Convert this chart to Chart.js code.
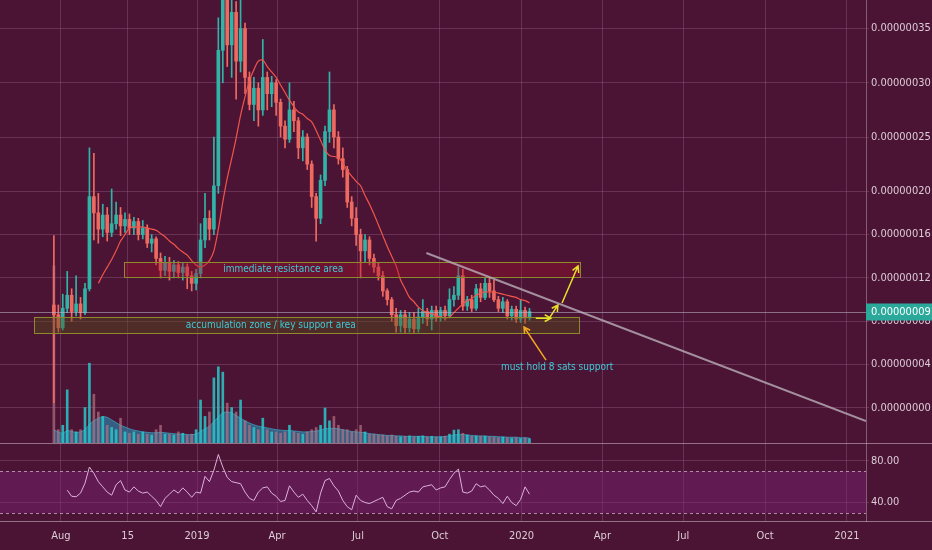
<!DOCTYPE html>
<html>
<head>
<meta charset="utf-8">
<title>Chart</title>
<script src="https://cdn.jsdelivr.net/npm/chart.js@4.4.1/dist/chart.umd.min.js"></script>
<style>
  html, body { margin: 0; padding: 0; background: #4c1434; }
  #wrap { position: relative; width: 932px; height: 550px; overflow: hidden; }
  #mainPane { position: absolute; left: 0; top: 0; }
  #rsiPane { position: absolute; left: 0; top: 443px; }
</style>
</head>
<body>
<div id="wrap">
  <canvas id="mainPane" width="932" height="443"></canvas>
  <canvas id="rsiPane" width="932" height="107"></canvas>
</div>
<script>
// days counted from 1 Aug 2018, one candle every 5 days
const firstDay = -8;
const stepDays = 5;

// prices in sats (1e-8)
const opens = [
  9.5, 8.6, 7.4, 9.2, 10.4, 8.9, 9.6, 8.8, 11.0, 19.5,
  18.0, 16.5, 17.8, 16.2, 17.0, 17.8, 16.8, 17.4, 16.6, 17.2,
  16.0, 16.6, 15.2, 15.6, 13.8, 12.7, 13.4, 12.6, 13.2, 12.5,
  13.0, 12.2, 11.5, 12.4, 15.5, 17.5, 16.5, 20.5, 33.0, 38.0,
  33.5, 36.5, 32.0, 35.0, 30.5, 28.0, 29.5, 27.5, 30.5, 29.0,
  30.0, 28.2, 26.0, 24.8, 27.5, 26.5, 24.0, 25.0, 22.5, 19.5,
  17.5, 21.0, 25.5, 27.5, 25.0, 23.0, 22.0, 19.0, 17.5, 16.0,
  14.5, 15.5, 13.8, 13.0, 12.2, 10.8, 10.0, 8.6, 7.6, 8.6,
  7.4, 8.2, 7.3, 8.4, 8.9, 8.2, 9.0, 8.3, 9.0, 8.5,
  10.0, 10.4, 12.2, 9.4, 10.0, 9.2, 11.0, 10.2, 11.5, 10.8,
  10.0, 9.2, 9.8, 8.5, 9.1, 8.2, 9.0, 8.3
];
const closes = [
  8.6, 7.4, 9.2, 10.4, 8.9, 9.6, 8.8, 11.0, 19.5, 18.0,
  16.5, 17.8, 16.2, 17.0, 17.8, 16.8, 17.4, 16.6, 17.2, 16.0,
  16.6, 15.2, 15.6, 13.8, 12.7, 13.4, 12.6, 13.2, 12.5, 13.0,
  12.2, 11.5, 12.4, 15.5, 17.5, 16.5, 20.5, 33.0, 38.0, 33.5,
  36.5, 32.0, 35.0, 30.5, 28.0, 29.5, 27.5, 30.5, 29.0, 30.0,
  28.2, 26.0, 24.8, 27.5, 26.5, 24.0, 25.0, 22.5, 19.5, 17.5,
  21.0, 25.5, 27.5, 25.0, 23.0, 22.0, 19.0, 17.5, 16.0, 14.5,
  15.5, 13.8, 13.0, 12.2, 10.8, 10.0, 8.6, 7.6, 8.6, 7.4,
  8.2, 7.3, 8.4, 8.9, 8.2, 9.0, 8.3, 9.0, 8.5, 10.0,
  10.4, 12.2, 9.4, 10.0, 9.2, 11.0, 10.2, 11.5, 10.8, 10.0,
  9.2, 9.8, 8.5, 9.1, 8.2, 9.0, 8.3, 8.9
];
const highs = [
  15.9, 9.5, 10.5, 12.6, 11.0, 12.2, 10.2, 11.5, 24.0, 23.5,
  19.8, 18.8, 18.5, 20.2, 19.0, 18.5, 18.0, 17.9, 17.6, 17.5,
  17.3, 16.9, 16.0, 15.8, 14.3, 14.0, 13.9, 13.6, 13.5, 13.4,
  13.3, 12.6, 12.8, 17.0, 19.8, 18.2, 25.0, 36.0, 40.0, 40.0,
  38.5, 37.5, 38.0, 35.5, 31.0, 30.5, 30.0, 34.0, 31.0, 30.6,
  30.3, 28.5, 26.5, 30.0, 28.3, 26.8, 25.6, 25.3, 22.8, 19.8,
  21.5, 26.0, 31.0, 28.0, 25.5, 24.0, 22.3, 19.5, 18.5, 16.5,
  16.0, 15.8, 14.2, 13.4, 12.6, 11.0, 10.2, 9.2, 9.0, 9.0,
  8.8, 8.8, 9.2, 10.0, 9.2, 9.4, 9.4, 9.3, 9.4, 11.0,
  11.2, 13.0, 12.8, 10.3, 10.4, 11.4, 11.5, 12.0, 12.0, 11.8,
  10.3, 10.2, 10.0, 9.4, 9.4, 10.0, 9.3, 9.2
];
const lows = [
  0.5, 7.0, 7.2, 8.8, 8.0, 8.5, 8.2, 8.6, 10.8, 15.5,
  15.2, 15.8, 15.4, 15.8, 16.5, 15.9, 16.2, 16.0, 16.0, 15.5,
  15.6, 14.8, 14.4, 13.2, 12.0, 12.2, 11.8, 12.0, 12.0, 11.8,
  11.0, 10.8, 10.9, 12.0, 14.8, 15.5, 16.0, 19.8, 30.0, 31.5,
  30.5, 28.5, 31.0, 29.0, 27.5, 26.5, 26.0, 27.0, 27.5, 27.8,
  27.0, 25.0, 24.0, 24.5, 25.5, 23.0, 22.8, 22.0, 18.5, 15.4,
  17.0, 20.5, 24.5, 24.0, 22.5, 21.3, 18.5, 16.8, 15.0, 12.0,
  13.5, 13.2, 12.5, 11.8, 10.3, 9.5, 8.0, 7.0, 7.0, 6.9,
  7.0, 6.9, 7.0, 7.8, 7.6, 7.2, 8.0, 8.0, 8.1, 8.3,
  9.4, 10.0, 9.0, 9.0, 8.9, 9.0, 9.8, 10.0, 10.2, 9.8,
  8.9, 8.8, 8.2, 8.1, 7.9, 7.9, 7.8, 8.1
];
const maLine = [
  null, null, null, null, null, null, null, null, null, null,
  11.5, 12.3, 13.0, 13.7, 14.5, 15.4, 16.0, 16.6, 16.7, 16.7,
  16.7, 16.6, 16.5, 16.4, 16.1, 15.8, 15.4, 15.1, 14.7, 14.4,
  14.1, 13.6, 13.2, 13.0, 13.2, 13.6, 14.5, 16.5, 19.0, 21.2,
  23.0, 24.9, 27.0, 28.7, 30.2, 31.2, 32.0, 32.1, 31.5, 31.0,
  30.5, 29.8, 29.1, 28.4, 27.8, 27.3, 27.1, 26.7, 26.4, 25.6,
  24.7, 23.8, 23.3, 23.2, 23.1, 22.6, 21.9, 21.4, 20.9, 20.5,
  19.6, 18.8, 17.9, 16.9, 15.9, 14.9, 14.0, 13.1, 11.8, 11.0,
  10.2, 9.8, 9.3, 9.0, 8.8, 8.7, 8.5, 8.4, 8.3, 8.4,
  8.8, 9.2, 9.6, 9.9, 10.1, 10.4, 10.6, 10.7, 10.7, 10.7,
  10.6, 10.5, 10.4, 10.3, 10.2, 10.0, 9.9, 9.7
];
const volumes = [
  40, 3, 4, 12, 3, 2.5, 3, 8, 18, 11,
  7, 6, 4, 3.5, 3, 5.6, 2.5, 2.2, 2.5, 2,
  2.5, 2, 1.8, 3, 4, 2, 2, 1.8, 2.5, 2.2,
  1.8, 2, 3, 9.7, 6, 7, 14.7, 17.2, 16, 9,
  8, 7, 9.7, 5, 4, 3.5, 3, 5.6, 3, 2.5,
  2.5, 2.2, 2.5, 4, 2.5, 2.2, 2, 2.5, 3, 3.5,
  4, 7.9, 5, 6, 4, 3, 3, 2.5, 3, 4,
  2.5, 2, 2, 1.8, 1.8, 1.6, 1.8, 1.5, 1.4, 1.5,
  1.6, 1.4, 1.5, 1.6, 1.4, 1.5, 1.3, 1.4, 1.5, 2,
  2.9, 3, 2.2, 1.8, 1.5, 1.6, 1.5, 1.5, 1.4, 1.3,
  1.2, 1.3, 1.2, 1.1, 1.2, 1.0, 1.1, 1.0
];
const volumeAvg = [
  3, 2.5, 2.2, 2.8, 2.6, 2.4, 2.5, 3.0, 4.2, 5.0,
  5.6, 5.9, 5.8, 5.2, 4.6, 4.0, 3.6, 3.2, 2.9, 2.7,
  2.5, 2.4, 2.3, 2.3, 2.4, 2.3, 2.2, 2.1, 2.0, 2.0,
  1.9, 1.9, 2.0, 2.6, 3.2, 3.8, 4.8, 5.9, 6.8, 7.0,
  6.8, 6.2, 5.6, 5.0, 4.5, 4.1, 3.8, 3.6, 3.4, 3.2,
  3.0, 2.9, 2.8, 2.8, 2.7, 2.6, 2.5, 2.5, 2.6, 2.7,
  2.9, 3.2, 3.3, 3.3, 3.2, 3.0, 2.8, 2.6, 2.5, 2.4,
  2.3, 2.1, 2.0, 1.9, 1.8, 1.7, 1.7, 1.6, 1.6, 1.5,
  1.5, 1.5, 1.5, 1.5, 1.4, 1.4, 1.4, 1.4, 1.5, 1.6,
  1.8, 1.9, 1.9, 1.8, 1.7, 1.6, 1.6, 1.6, 1.5, 1.5,
  1.4, 1.4, 1.3, 1.3, 1.3, 1.2, 1.2, 1.1
];
const rsi = [
  null, null, null, 51.8, 46, 45.5, 49, 58.5, 74, 68,
  60, 55, 50, 47, 57, 61, 52, 50, 55, 51,
  49, 50, 46, 42, 36, 44, 48, 52, 49, 54,
  50, 45, 50, 49, 65, 60, 71, 86, 74, 64,
  60, 59, 58, 50, 44, 42, 50, 54, 55, 49,
  46, 41, 42, 56, 50, 45, 48, 42, 37, 31,
  49, 61, 63, 56, 51, 42, 36, 33, 47, 42,
  40, 39, 41, 43, 45, 36, 34, 42, 44, 47,
  50, 51, 50, 55, 56, 57, 52, 54, 55, 62,
  68, 72, 50, 49, 51, 58, 55, 56, 52, 47,
  44, 39, 46, 40, 37, 43, 55, 48
];

const timeTicks = [0, 75, 153, 243, 334, 426, 518, 609, 700, 792, 884];
const timeLabels = ['Aug', '15', '2019', 'Apr', 'Jul', 'Oct', '2020', 'Apr', 'Jul', 'Oct', '2021'];
const priceTicks = [0, 4, 8, 12, 16, 20, 25, 30, 35];
const rsiTicks = [40, 80];

// drawings on the chart, in days / sats
const zones = [
  { from: 71, to: 584, low: 12.1, high: 13.5, fill: 'rgba(165,15,45,0.38)' },
  { from: -30, to: 583, low: 6.9, high: 8.4, fill: 'rgba(85,80,20,0.4)' }
];
const notes = [
  { text: 'immediate resistance area', day: 250, price: 12.75 },
  { text: 'accumulation zone / key support area', day: 236, price: 7.65 },
  { text: 'must hold 8 sats support', day: 558, price: 3.7 }
];
const trendLine = { from: [411, 14.3], to: [905.5, -1.2] };
const arrows = [
  { from: [534, 8.29], to: [551, 8.29], color: '#e6e22a' },
  { from: [550, 8.39], to: [559, 9.5], color: '#e6e22a' },
  { from: [563.6, 9.68], to: [581.6, 13.1], color: '#e6e22a' },
  { from: [545.6, 4.42], to: [520.8, 7.47], color: '#f0a81e' }
];

const xMin = -68.6, xMax = 905.5;
const GRID = 'rgba(150,95,135,0.4)';
const TEXT = '#dccdd6';
const UP = '#2fb5a8';
const DOWN = '#ee6a60';
const FONT = "'Liberation Sans Narrow', 'DejaVu Sans Condensed', 'Liberation Sans', sans-serif";

Chart.defaults.font.family = FONT;
Chart.defaults.font.size = 11;

const days = closes.map((_, i) => firstDay + i * stepDays);
const isUp = i => closes[i] >= opens[i];

function drawArrow(ctx, x1, y1, x2, y2, color) {
  const a = Math.atan2(y2 - y1, x2 - x1);
  const len = 7;
  ctx.strokeStyle = color;
  ctx.lineWidth = 1.5;
  ctx.beginPath();
  ctx.moveTo(x1, y1);
  ctx.lineTo(x2, y2);
  ctx.moveTo(x2 - len * Math.cos(a - 0.5), y2 - len * Math.sin(a - 0.5));
  ctx.lineTo(x2, y2);
  ctx.lineTo(x2 - len * Math.cos(a + 0.5), y2 - len * Math.sin(a + 0.5));
  ctx.stroke();
}

const drawingsPlugin = {
  id: 'drawings',
  afterDatasetsDraw(chart) {
    const { ctx, chartArea, scales } = chart;
    const px = d => scales.x.getPixelForValue(d);
    const py = v => scales.y.getPixelForValue(v);
    ctx.save();
    ctx.beginPath();
    ctx.rect(chartArea.left, chartArea.top, chartArea.width, chartArea.height);
    ctx.clip();

    zones.forEach(z => {
      const x1 = px(z.from), x2 = px(z.to), y1 = py(z.high), y2 = py(z.low);
      ctx.fillStyle = z.fill;
      ctx.fillRect(x1, y1, x2 - x1, y2 - y1);
      ctx.strokeStyle = '#8c8a2c';
      ctx.lineWidth = 1;
      ctx.strokeRect(Math.round(x1) + 0.5, Math.round(y1) + 0.5, Math.round(x2 - x1), Math.round(y2 - y1));
    });

    ctx.strokeStyle = 'rgba(185,175,185,0.8)';
    ctx.lineWidth = 2;
    ctx.beginPath();
    ctx.moveTo(px(trendLine.from[0]), py(trendLine.from[1]));
    ctx.lineTo(px(trendLine.to[0]), py(trendLine.to[1]));
    ctx.stroke();

    arrows.forEach(a => drawArrow(ctx, px(a.from[0]), py(a.from[1]), px(a.to[0]), py(a.to[1]), a.color));

    ctx.fillStyle = '#3ecbd8';
    ctx.font = '10px ' + FONT;
    ctx.textAlign = 'center';
    ctx.textBaseline = 'middle';
    notes.forEach(n => ctx.fillText(n.text, px(n.day), py(n.price)));
    ctx.restore();
  },
  afterDraw(chart) {
    const { ctx, chartArea, scales } = chart;
    const last = closes[closes.length - 1];
    const y = Math.round(scales.y.getPixelForValue(last)) + 0.5;
    ctx.save();
    ctx.strokeStyle = 'rgba(190,185,205,0.55)';
    ctx.lineWidth = 1;
    ctx.beginPath();
    ctx.moveTo(chartArea.left, y);
    ctx.lineTo(chartArea.right, y);
    ctx.stroke();
    ctx.fillStyle = '#2aa99b';
    ctx.fillRect(chartArea.right, y - 9, chart.width - chartArea.right, 17);
    ctx.fillStyle = '#ffffff';
    ctx.font = '11px ' + FONT;
    ctx.textBaseline = 'middle';
    ctx.fillText((last / 1e8).toFixed(8), chartArea.right + 5, y);
    ctx.restore();
  }
};

const rsiPlugin = {
  id: 'rsiBand',
  beforeDatasetsDraw(chart) {
    const { ctx, chartArea, scales } = chart;
    const y70 = scales.y.getPixelForValue(70);
    const y30 = scales.y.getPixelForValue(30);
    ctx.save();
    ctx.fillStyle = 'rgba(125,35,120,0.45)';
    ctx.fillRect(chartArea.left, y70, chartArea.width, y30 - y70);
    ctx.strokeStyle = 'rgba(215,190,215,0.7)';
    ctx.lineWidth = 1;
    ctx.setLineDash([3, 3]);
    [y70, y30].forEach(y => {
      ctx.beginPath();
      ctx.moveTo(chartArea.left, Math.round(y) + 0.5);
      ctx.lineTo(chartArea.right, Math.round(y) + 0.5);
      ctx.stroke();
    });
    ctx.restore();
  },
  afterDraw(chart) {
    const { ctx, chartArea } = chart;
    ctx.save();
    ctx.strokeStyle = 'rgba(200,175,190,0.6)';
    ctx.lineWidth = 1;
    ctx.beginPath();
    ctx.moveTo(0, 0.5);
    ctx.lineTo(chart.width, 0.5);
    ctx.moveTo(0, Math.round(chartArea.bottom) + 0.5);
    ctx.lineTo(chart.width, Math.round(chartArea.bottom) + 0.5);
    ctx.stroke();
    ctx.restore();
  }
};

function priceAxisWidth(s) {
  s.width = 66;
  s.paddingTop = 0;
  s.paddingBottom = 0;
}

function makeMainChart() {
  const ctx = document.getElementById('mainPane').getContext('2d');
  new Chart(ctx, {
    data: {
      datasets: [
        {
          type: 'line',
          data: days.map((d, i) => ({ x: d, y: maLine[i] })),
          borderColor: '#f0564b',
          borderWidth: 1.2,
          pointRadius: 0,
          tension: 0.3,
          order: 0
        },
        {
          type: 'bar',
          data: days.map((d, i) => ({ x: d, y: [opens[i], closes[i]] })),
          backgroundColor: c => isUp(c.dataIndex) ? UP : DOWN,
          barThickness: 3,
          grouped: false,
          order: 1
        },
        {
          type: 'bar',
          data: days.map((d, i) => ({ x: d, y: [lows[i], highs[i]] })),
          backgroundColor: c => isUp(c.dataIndex) ? UP : DOWN,
          barThickness: 1,
          grouped: false,
          order: 2
        },
        {
          type: 'bar',
          yAxisID: 'yVol',
          data: days.map((d, i) => ({ x: d, y: volumes[i] })),
          backgroundColor: c => isUp(c.dataIndex) ? 'rgba(40,200,200,0.85)' : 'rgba(185,120,135,0.65)',
          barThickness: 2,
          grouped: false,
          order: 3
        },
        {
          type: 'line',
          yAxisID: 'yVol',
          data: days.map((d, i) => ({ x: d, y: volumeAvg[i] })),
          fill: 'origin',
          backgroundColor: 'rgba(45,125,165,0.7)',
          borderColor: 'rgba(60,150,180,0.9)',
          borderWidth: 1,
          pointRadius: 0,
          tension: 0.3,
          order: 4
        }
      ]
    },
    options: {
      responsive: false,
      animation: false,
      events: [],
      layout: { padding: 0 },
      plugins: { legend: { display: false }, tooltip: { enabled: false } },
      scales: {
        x: {
          type: 'linear',
          min: xMin,
          max: xMax,
          offset: false,
          afterBuildTicks: s => { s.ticks = timeTicks.map(v => ({ value: v })); },
          afterFit: s => { s.height = 0; s.paddingLeft = 0; s.paddingRight = 0; },
          grid: { color: GRID, drawTicks: false, offset: false },
          border: { display: false },
          ticks: { display: false }
        },
        y: {
          type: 'linear',
          position: 'right',
          min: -3.23,
          max: 37.64,
          afterBuildTicks: s => { s.ticks = priceTicks.map(v => ({ value: v })); },
          afterFit: priceAxisWidth,
          grid: { color: GRID, tickLength: 3 },
          border: { color: 'rgba(170,140,160,0.6)' },
          ticks: { color: TEXT, padding: 2, callback: v => (v / 1e8).toFixed(8) }
        },
        yVol: { type: 'linear', display: false, min: 0, max: 100 }
      }
    },
    plugins: [drawingsPlugin]
  });
}

function makeRsiChart() {
  const ctx = document.getElementById('rsiPane').getContext('2d');
  new Chart(ctx, {
    type: 'line',
    data: {
      datasets: [{
        data: days.map((d, i) => ({ x: d, y: rsi[i] })),
        borderColor: '#dcb0e0',
        borderWidth: 1,
        pointRadius: 0,
        tension: 0
      }]
    },
    options: {
      responsive: false,
      animation: false,
      events: [],
      layout: { padding: 0 },
      plugins: { legend: { display: false }, tooltip: { enabled: false } },
      scales: {
        x: {
          type: 'linear',
          min: xMin,
          max: xMax,
          offset: false,
          afterBuildTicks: s => { s.ticks = timeTicks.map(v => ({ value: v })); },
          afterFit: s => { s.height = 29; s.paddingLeft = 0; s.paddingRight = 0; },
          grid: { color: GRID, drawTicks: false },
          border: { display: false },
          ticks: {
            color: TEXT,
            padding: 9,
            maxRotation: 0,
            autoSkip: false,
            callback: v => timeLabels[timeTicks.indexOf(v)]
          }
        },
        y: {
          type: 'linear',
          position: 'right',
          min: 22.3,
          max: 97,
          afterBuildTicks: s => { s.ticks = rsiTicks.map(v => ({ value: v })); },
          afterFit: priceAxisWidth,
          grid: { color: GRID, tickLength: 3 },
          border: { color: 'rgba(170,140,160,0.6)' },
          ticks: { color: TEXT, padding: 2, callback: v => v.toFixed(2) }
        }
      }
    },
    plugins: [rsiPlugin]
  });
}

document.addEventListener('DOMContentLoaded', () => {
  makeMainChart();
  makeRsiChart();
});
</script>
</body>
</html>
